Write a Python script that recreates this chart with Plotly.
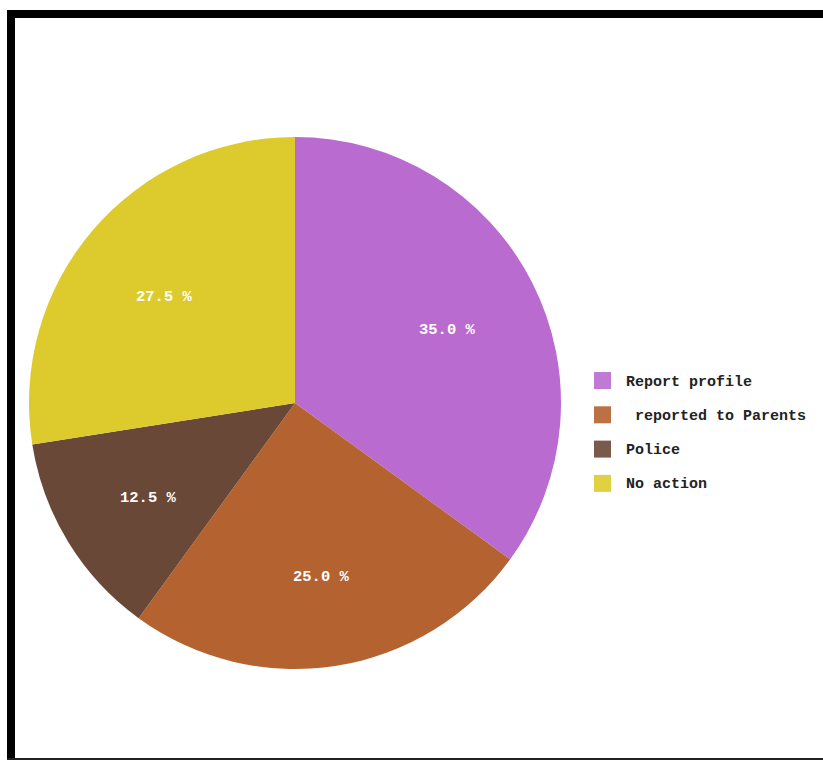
import math
import plotly.graph_objects as go

# Responses to the question and their share (%)
actions = ["Report profile", " reported to Parents", "Police", "No action"]
shares = [35.0, 25.0, 12.5, 27.5]
colors = ["#BA6BCF", "#B4622F", "#6A4838", "#DDCB2E"]

W, H = 823, 760
FONT = "Liberation Mono"

# Pie placement (pixels)
CX, CY, R = 295, 403, 266
LABEL_DIST = 0.645
TEXT_DROP = 5  # nudge so digits sit visually centred


def px(x):
    return x / W


def py(y):
    return 1 - y / H


fig = go.Figure(
    go.Pie(
        labels=actions,
        values=shares,
        marker=dict(colors=colors, line=dict(width=0)),
        sort=False,
        direction="clockwise",
        rotation=0,
        textinfo="none",
        domain=dict(x=[px(CX - R), px(CX + R)], y=[py(CY + R), py(CY - R)]),
        showlegend=False,
        hoverinfo="label+percent",
    )
)

annotations = []

# Percentage labels, placed at each slice's mid-angle
total = sum(shares)
cum = 0.0
for v in shares:
    mid = (cum + v / 2) / total * 2 * math.pi
    cum += v
    lx = CX + LABEL_DIST * R * math.sin(mid)
    ly = CY - LABEL_DIST * R * math.cos(mid) + TEXT_DROP
    annotations.append(dict(xref="paper", yref="paper", x=px(lx), y=py(ly),
                            xanchor="center", yanchor="middle", showarrow=False,
                            text=f"{v:.1f} %",
                            font=dict(family=FONT, size=15.5, color="white", weight="bold")))

# Frame lines around the chart
shapes = [
    dict(type="rect", xref="paper", yref="paper", x0=px(7), x1=1.01, y0=py(18), y1=py(10),
         fillcolor="black", line=dict(width=0)),
    dict(type="rect", xref="paper", yref="paper", x0=px(7), x1=px(15), y0=py(760), y1=py(10),
         fillcolor="black", line=dict(width=0)),
    dict(type="rect", xref="paper", yref="paper", x0=px(7), x1=1.01, y0=py(760), y1=py(758),
         fillcolor="#222222", line=dict(width=0)),
]

# Legend: colour swatch + label for each category
row0, step = 380.5, 34.3
for i, (name, col) in enumerate(zip(actions, colors)):
    yc = row0 + i * step
    shapes.append(dict(type="rect", xref="paper", yref="paper",
                       x0=px(594), x1=px(611), y0=py(yc + 8.5), y1=py(yc - 8.5),
                       fillcolor=col, line=dict(width=0), opacity=0.9))
    label = "&nbsp;" + name[1:] if name.startswith(" ") else name
    annotations.append(dict(xref="paper", yref="paper", x=px(624), y=py(yc + 1.5),
                            xanchor="left", yanchor="middle", showarrow=False,
                            text=label,
                            font=dict(family=FONT, size=15, color="#222222", weight="bold")))

fig.update_layout(
    width=W, height=H,
    margin=dict(l=0, r=0, t=0, b=0),
    paper_bgcolor="white",
    plot_bgcolor="white",
    shapes=shapes,
    annotations=annotations,
)

fig.write_html("out.html")
